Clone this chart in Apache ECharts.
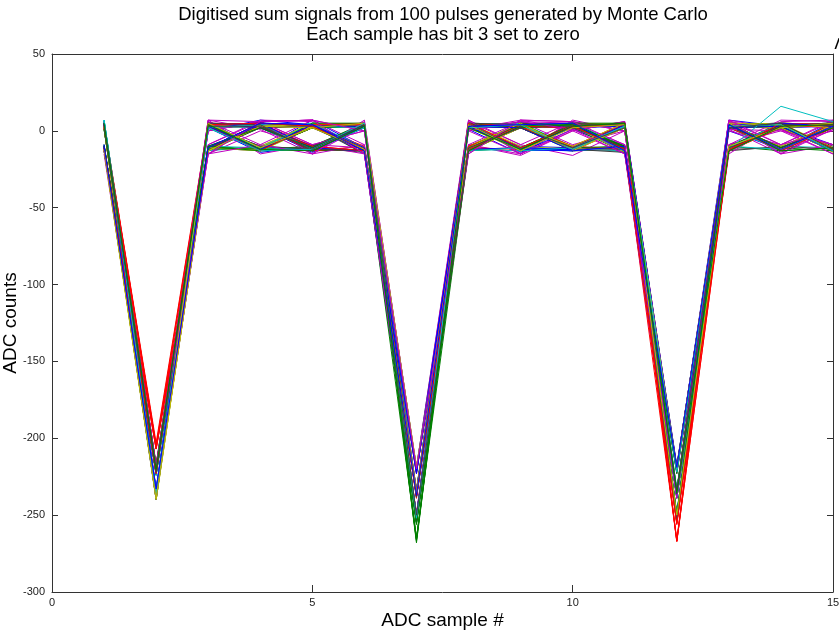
<!DOCTYPE html>
<html>
<head>
<meta charset="utf-8">
<script src="https://cdn.jsdelivr.net/npm/echarts@6/dist/echarts.min.js"></script>
<style>
html,body{margin:0;padding:0;background:#fff;}
#chart{width:839px;height:633px;}
</style>
</head>
<body>
<div id="chart"></div>
<script>
const titleLines = ['Digitised sum signals from 100 pulses generated by Monte Carlo', 'Each sample has bit 3 set to zero'];
const xAxisName = 'ADC sample #';
const yAxisName = 'ADC counts';
const sampleX = [1,2,3,4,5,6,7,8,9,10,11,12,13,14,15];
const pulses = [
[3,-222,6,-12,7,-11,-238,1,-15,4,-10,-236,0,-12,6],
[-11,-236,-12,3,-13,4,-252,-11,2,-12,5,-220,-13,3,-10],
[5,-205,4,2,-10,3,-221,5,-11,-13,2,-266,4,1,-12],
[-10,-219,2,-13,4,-12,-237,4,3,-10,-14,-238,-11,5,3],
[6,-234,-9,6,-15,3,-250,-14,6,5,-9,-222,1,-15,4],
[2,-239,4,-13,2,5,-234,2,-12,3,4,-251,-10,4,-14],
[-12,-223,-13,3,-11,-14,-220,-10,5,-12,3,-236,4,-11,2],
[4,-238,0,7,4,-15,-254,6,-14,1,-12,-219,7,3,-9],
[-9,-235,-10,-12,3,4,-266,3,2,-13,5,-239,-12,4,5],
[5,-203,5,4,-13,-12,-236,-12,-11,4,-13,-255,5,-11,2],
[7,-218,-13,-10,4,2,-222,4,5,-10,2,-234,-11,2,-13],
[-15,-233,1,6,-9,-11,-250,-9,-16,0,6,-221,6,-14,1],
[4,-240,5,-11,3,2,-238,3,5,-12,-10,-249,2,3,-12],
[-10,-220,-11,2,3,-15,-233,-13,2,3,-11,-237,-13,-10,4],
[5,-237,2,-14,-10,3,-252,2,-10,-11,4,-218,3,4,2],
[1,-217,4,2,-13,-12,-254,-12,4,2,-14,-235,-10,-13,-11],
[-11,-207,-12,5,2,4,-223,3,-12,5,3,-267,-12,5,4],
[6,-224,3,-12,-11,5,-239,-11,3,-12,-13,-253,3,-12,5],
[3,-238,-9,7,6,-15,-249,6,-15,7,0,-220,-9,1,-15],
[-12,-236,5,3,-12,2,-218,-13,2,-11,5,-234,5,2,4],
[4,-221,2,-11,4,-12,-235,4,5,3,-12,-250,-12,-11,3],
[-9,-239,-13,3,-14,4,-237,2,-11,-13,4,-238,2,5,-12],
[5,-220,4,-12,2,3,-255,-10,4,2,-11,-222,4,-12,2],
[2,-218,-11,5,-10,-13,-252,5,2,-12,3,-254,-13,4,5],
[6,-233,3,2,5,4,-221,-12,-13,5,-10,-236,3,-10,-11],
[-11,-218,7,-15,-9,0,-238,1,6,-9,0,-249,-15,6,7],
[3,-240,-12,4,3,-11,-234,-11,5,3,-13,-219,5,-13,2],
[-13,-223,2,-10,-12,5,-251,4,-12,-11,5,-237,2,4,-12],
[4,-235,5,3,4,-12,-220,2,3,4,-11,-254,-12,2,3],
[-10,-222,-11,-12,2,3,-265,-13,-11,2,4,-233,4,-11,-13],
[5,-221,3,5,-13,-10,-237,5,4,-13,-12,-255,3,5,2],
[7,-219,4,-11,5,4,-250,-10,2,5,3,-221,-10,-12,5],
[2,-237,-15,0,-9,-15,-223,6,-9,-16,0,-239,7,1,-9],
[-12,-239,2,4,3,2,-236,-12,5,3,-14,-252,-13,2,4],
[3,-217,5,-12,-11,4,-253,4,-13,-11,5,-218,2,-10,-12],
[-11,-234,-10,3,4,-12,-238,-11,3,2,-10,-235,4,5,3],
[6,-221,3,-13,-12,5,-253,2,-12,4,3,-250,-11,3,-13],
[4,-205,-12,5,2,-11,-222,-13,4,-10,-12,-267,3,-12,2],
[-10,-238,4,-11,-13,3,-234,4,2,5,4,-220,-12,4,5],
[5,-218,0,6,7,-15,-249,-9,-15,1,-9,-237,7,-15,-9],
[2,-240,-11,-12,3,4,-219,3,5,-12,2,-253,2,3,4],
[-13,-224,5,4,-10,2,-237,5,-13,4,-13,-222,-10,5,-12],
[4,-236,3,-13,4,-12,-255,-12,2,-11,5,-238,4,-11,3],
[-9,-219,-13,2,-12,5,-268,4,3,2,-10,-234,3,2,-13],
[6,-219,4,5,3,-10,-235,-11,-12,5,3,-253,-12,4,2],
[3,-222,-10,-11,4,3,-221,2,4,-13,-12,-251,5,-12,5],
[-12,-235,7,1,-15,-9,-251,-15,7,1,6,-219,-9,0,-15],
[5,-239,2,-12,5,4,-238,5,-10,-12,2,-236,2,-10,4],
[-10,-220,-12,4,2,-13,-222,3,2,4,-13,-252,4,5,3],
[4,-238,3,-10,-13,2,-236,-12,-11,2,5,-221,-13,3,-12],
[1,-223,4,5,3,-11,-256,4,5,-11,-10,-238,3,-12,2],
[-11,-207,-11,-13,4,5,-250,-10,3,4,3,-256,5,4,-13],
[6,-234,5,2,-12,3,-219,5,-12,-13,4,-233,-12,2,5],
[3,-217,-15,6,7,-9,-237,-9,6,0,-15,-254,0,-9,6],
[-13,-240,3,-11,2,4,-253,2,-13,5,2,-220,4,5,-11],
[5,-221,2,3,-12,-13,-234,4,2,-12,-14,-239,-11,3,4],
[-10,-237,-13,5,4,2,-222,-13,5,2,4,-249,3,-12,2],
[4,-224,4,-12,-10,5,-267,3,-11,4,-12,-235,5,4,-12],
[2,-222,5,3,4,-11,-238,-12,3,-10,5,-254,-13,2,5],
[7,-220,-11,-13,3,2,-251,5,4,5,-13,-222,2,-13,3],
[-12,-236,0,6,-15,7,-220,0,-15,6,0,-237,6,1,-9],
[3,-238,2,-10,5,-12,-235,-10,5,-12,4,-252,-12,5,4],
[-11,-219,-12,2,3,4,-253,4,2,4,-11,-218,3,-11,2],
[5,-233,4,5,-11,-13,-237,3,-12,-13,3,-236,5,2,-13],
[-10,-222,5,-12,2,3,-252,-11,4,2,-10,-250,-10,4,3],
[4,-206,-13,3,4,-11,-221,5,3,5,4,-267,2,-12,5],
[6,-237,3,-11,-12,5,-236,-13,-11,-12,2,-234,-13,3,-11],
[2,-218,0,6,7,0,-252,1,7,6,-15,-220,6,-9,7],
[-12,-239,-11,-13,3,-12,-222,4,-12,4,5,-255,3,5,2],
[4,-223,5,2,-10,4,-238,-12,2,-11,-12,-238,-11,2,-12],
[-9,-240,3,5,4,-13,-250,3,4,2,3,-221,5,-13,3],
[5,-220,-12,-11,2,3,-255,5,-13,5,-11,-236,2,4,5],
[3,-218,4,3,-13,5,-234,-10,3,-12,4,-255,-12,3,-11],
[-11,-235,2,-12,5,-11,-220,2,5,3,-13,-249,4,-12,2],
[6,-219,7,6,-9,0,-237,7,-9,6,0,-223,-9,7,6],
[2,-238,-13,3,4,4,-253,-13,2,-10,5,-237,3,2,-13],
[-13,-221,3,-10,-12,-12,-235,5,4,3,-12,-251,5,-11,3],
[4,-236,4,5,3,3,-222,3,-13,-12,3,-219,-13,4,5],
[-10,-218,-10,-13,5,5,-254,-11,5,4,-10,-234,2,3,-12],
[5,-220,5,2,-10,-13,-239,4,2,-11,4,-252,4,-13,2],
[7,-224,2,4,3,2,-250,-12,3,5,-13,-238,-11,5,4],
[3,-234,-15,-9,-15,6,-219,7,-15,0,6,-252,1,0,-9],
[-12,-239,4,3,4,-11,-236,2,4,-13,2,-221,5,-12,3],
[4,-222,3,-12,2,5,-254,-13,5,3,-11,-236,-12,4,5],
[-11,-237,5,2,-11,3,-221,3,-11,-12,4,-250,2,3,-13],
[5,-219,-11,5,3,-12,-266,4,2,4,-12,-223,4,-11,2],
[2,-207,3,-13,4,4,-237,-12,3,2,5,-267,-13,5,4],
[6,-235,2,4,-12,2,-234,5,-13,-11,3,-238,-12,16,6],
[-13,-220,6,-9,7,-15,-251,0,6,1,-15,-235,6,-15,1],
[3,-240,-13,3,2,5,-219,-11,5,-12,2,-220,5,4,-12],
[-10,-223,5,4,-13,3,-238,4,-12,4,4,-253,-11,2,5],
[5,-238,3,-12,4,-11,-223,3,2,-13,-10,-237,2,5,3],
[1,-221,-10,2,-11,4,-256,-13,3,5,5,-249,4,-13,-11],
[-11,-223,4,5,3,-12,-235,5,-11,3,-12,-256,-12,3,4],
[7,-236,2,-13,-12,5,-252,2,4,-12,3,-222,3,4,-13],
[4,-218,-15,6,7,0,-220,-15,7,6,-9,-239,7,-9,0],
[-12,-239,5,-11,2,-12,-236,4,-13,2,4,-250,-10,2,5],
[3,-222,3,3,-12,4,-250,-11,2,-11,2,-234,2,5,-12],
[-10,-233,-11,5,4,-13,-237,3,4,5,-13,-219,4,-12,3],
[5,-220,4,-12,-13,3,-265,2,-12,3,5,-236,-13,3,4]
];
const lineColors = ['#0000ff','#008000','#ff0000','#00bfbf','#bf00bf','#bfbf00','#404040'];

const chart = echarts.init(document.getElementById('chart'), null, {renderer:'canvas'});
const font = '"Liberation Sans", Arial, sans-serif';
const axisColor = '#333';
const commonX = {
  type:'value', min:0, max:15, interval:5,
  axisLine:{show:true, onZero:false, lineStyle:{color:axisColor, width:1}},
  axisTick:{show:true, inside:true, length:7, lineStyle:{color:axisColor}},
  splitLine:{show:false}
};
const commonY = {
  type:'value', min:-300, max:50, interval:50,
  axisLine:{show:true, onZero:false, lineStyle:{color:axisColor, width:1}},
  axisTick:{show:true, inside:true, length:6, lineStyle:{color:axisColor}},
  splitLine:{show:false}
};
const option = {
  animation:false,
  backgroundColor:'#fff',
  grid:{left:52, right:6, top:54, bottom:41, containLabel:false, outerBoundsMode:'none'},
  xAxis:[
    Object.assign({}, commonX, {position:'bottom',
      axisLabel:{color:'#222', fontSize:11, fontFamily:font, margin:5},
      name:xAxisName, nameLocation:'middle', nameGap:19, nameMoveOverlap:false,
      nameTextStyle:{fontSize:19, fontFamily:font, color:'#000'}}),
    Object.assign({}, commonX, {position:'top', axisLabel:{show:false}})
  ],
  yAxis:[
    Object.assign({}, commonY, {position:'left',
      axisLabel:{color:'#222', fontSize:11, fontFamily:font, margin:7},
      name:yAxisName, nameLocation:'middle', nameGap:32, nameMoveOverlap:false,
      nameTextStyle:{fontSize:19, fontFamily:font, color:'#000'}}),
    Object.assign({}, commonY, {position:'right', axisLabel:{show:false}})
  ],
  graphic:[
    {type:'text', x:443, y:15, style:{text:titleLines[0], textAlign:'center', textVerticalAlign:'middle', font:'18.5px ' + font, fill:'#000'}},
    {type:'text', x:443, y:35, style:{text:titleLines[1], textAlign:'center', textVerticalAlign:'middle', font:'18.5px ' + font, fill:'#000'}},
    {type:'text', x:835, y:45, style:{text:'/', textAlign:'left', textVerticalAlign:'middle', font:'italic bold 14px ' + font, fill:'#000'}}
  ],
  series: pulses.map((p, i) => ({
    type:'line',
    xAxisIndex:0, yAxisIndex:0,
    data: p.map((v, j) => [sampleX[j], v]),
    symbol:'none',
    silent:true,
    lineStyle:{width:1, color:lineColors[i % lineColors.length]}
  }))
};
chart.setOption(option);
</script>
</body>
</html>
